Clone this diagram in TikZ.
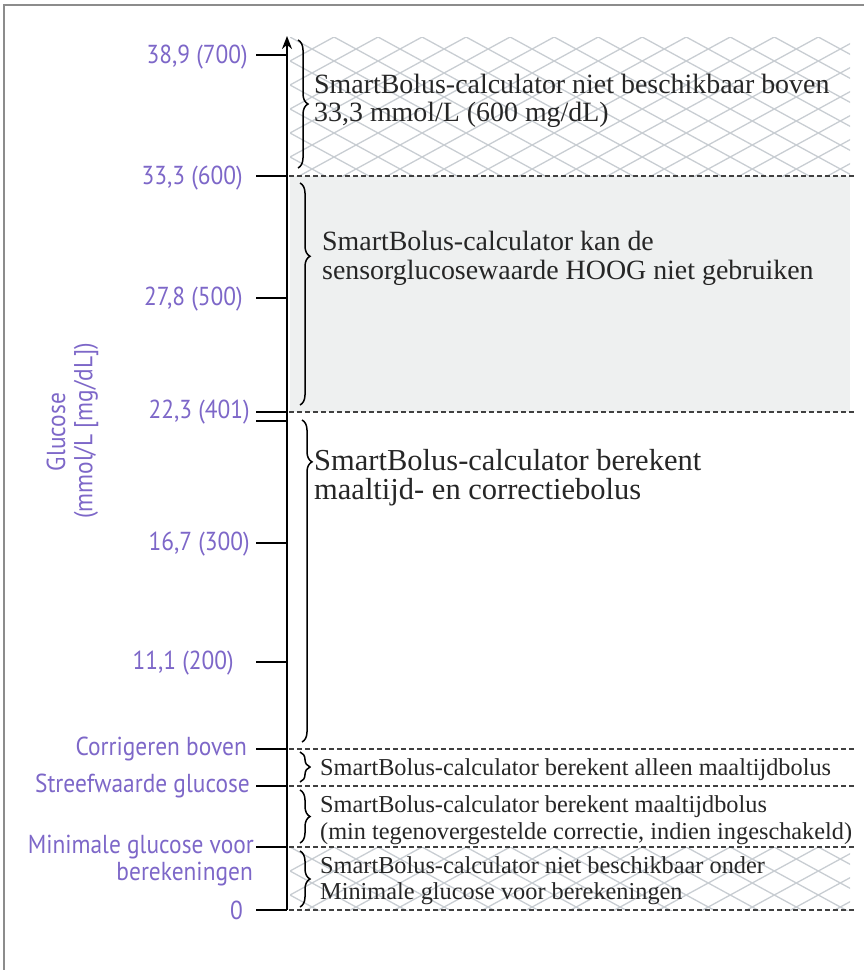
\documentclass[tikz,border=0pt]{standalone}
\usepackage{fontspec}
\setmainfont{Liberation Serif}
\newfontfamily\labfont{PT Sans}[FakeStretch=0.9]
\usetikzlibrary{decorations.pathreplacing,arrows.meta}
\definecolor{labc}{RGB}{125,103,200}
\definecolor{hatchc}{RGB}{200,205,210}
\definecolor{grayfill}{RGB}{238,240,240}
\definecolor{framec}{RGB}{140,140,140}
\newcommand\hatchreg[2]{%
  \begin{scope}
    \clip (290,#1) rectangle (850,#2);
    \foreach \k in {-22,...,22} {
      \draw[hatchc,line width=1.3pt] (290,#1+\k*24) -- (855,#1+\k*24+308);
      \draw[hatchc,line width=1.3pt] (290,#1+\k*24) -- (855,#1+\k*24-308);
    }
  \end{scope}}
\begin{document}
\begin{tikzpicture}[x=1pt,y=-1pt,
  lbl/.style={font=\labfont\fontsize{26}{30}\selectfont, text=labc, anchor=east, inner sep=0pt},
  axlbl/.style={font=\labfont\fontsize{26}{30}\selectfont, text=labc, rotate=90, inner sep=0pt},
  tickline/.style={line width=1.5pt},
  sepline/.style={dash pattern=on 5pt off 3pt, line width=1.3pt, draw=black!75},
  brc/.style={decorate, decoration={brace, amplitude=10pt, aspect=#1}, line width=1.5pt},
  brc/.default=0.5,
  bigtxt/.style={font=\fontsize{27.9}{30}\selectfont, anchor=base west, inner sep=0pt, text=black!85},
  midtxt/.style={font=\fontsize{30.5}{32}\selectfont, anchor=base west, inner sep=0pt, text=black!85},
  smtxt/.style={font=\fontsize{24.3}{26}\selectfont, anchor=base west, inner sep=0pt, text=black!85},
]
\useasboundingbox (0,0) rectangle (864,970);
% frame
\draw[framec,line width=2pt] (4,970) -- (4,5) -- (864,5);
% regions
\fill[grayfill] (290,176) rectangle (850,412);
\hatchreg{37}{176}
\hatchreg{847}{910}
% separators
\foreach \y/\n in {176/s1,412/s2,749/s3,786/s4,847/s5,910/s6} {
  \coordinate (\n a) at (289,\y);
  \coordinate (\n b) at (855,\y);
  \draw[sepline] (\n a) -- (\n b);
}
% axis
\coordinate (axbot) at (287,910);
\coordinate (axtop) at (287,36);
\draw[line width=2pt, -{Stealth[length=13pt,width=10pt]}] (axbot) -- (axtop);
% ticks
\foreach \y/\n in {55/t1,176/t2,298/t3,412/t4,421/t4b,543/t5,662/t6,749/t7,786/t8,847/t9,910/t10} {
  \coordinate (\n l) at (256,\y);
  \coordinate (\n r) at (287,\y);
  \draw[tickline] (\n l) -- (\n r);
}
% labels
\node[lbl] (l1) at (248,57) {38,9 (700)};
\node[lbl] (l2) at (243,178) {33,3 (600)};
\node[lbl] (l3) at (243,299) {27,8 (500)};
\node[lbl] (l4) at (250,412) {22,3 (401)};
\node[lbl] (l5) at (250,544) {16,7 (300)};
\node[lbl] (l6) at (234,663) {11,1 (200)};
\node[lbl] (l7) at (247,749) {Corrigeren boven};
\node[lbl] (l8) at (250,786) {Streefwaarde glucose};
\node[lbl] (l9) at (254,847) {Minimale glucose voor};
\node[lbl] (l9b) at (253,874) {berekeningen};
\node[lbl] (l10) at (243,910) {0};
\node[axlbl] (g1) at (56,432) {Glucose};
\node[axlbl] (g2) at (86,431) {(mmol/L [mg/dL])};
% braces
\coordinate (b1t) at (298,40);  \coordinate (b1b) at (298,168);
\coordinate (b2t) at (300,183); \coordinate (b2b) at (300,405);
\coordinate (b3t) at (302,420); \coordinate (b3b) at (302,742);
\coordinate (b4t) at (300,752); \coordinate (b4b) at (300,782);
\coordinate (b5t) at (300,790); \coordinate (b5b) at (300,843);
\coordinate (b6t) at (300,851); \coordinate (b6b) at (300,907);
\draw[brc] (b1t) -- (b1b);
\draw[brc=0.33] (b2t) -- (b2b);
\draw[brc=0.13] (b3t) -- (b3b);
\draw[brc] (b4t) -- (b4b);
\draw[brc] (b5t) -- (b5b);
\draw[brc] (b6t) -- (b6b);
% texts
\node[bigtxt] (x1a) at (314,93) {SmartBolus-calculator niet beschikbaar boven};
\node[bigtxt] (x1b) at (314,121) {33,3 mmol/L (600 mg/dL)};
\node[bigtxt] (x2a) at (322,250) {SmartBolus-calculator kan de};
\node[bigtxt] (x2b) at (322,279) {sensorglucosewaarde HOOG niet gebruiken};
\node[midtxt] (x3a) at (314,470) {SmartBolus-calculator berekent};
\node[midtxt] (x3b) at (314,499) {maaltijd- en correctiebolus};
\node[smtxt] (x4) at (320,775) {SmartBolus-calculator berekent alleen maaltijdbolus};
\node[smtxt] (x5a) at (320,812) {SmartBolus-calculator berekent maaltijdbolus};
\node[smtxt] (x5b) at (320,839) {(min tegenovergestelde correctie, indien ingeschakeld)};
\node[smtxt] (x6a) at (320,873) {SmartBolus-calculator niet beschikbaar onder};
\node[smtxt] (x6b) at (320,899) {Minimale glucose voor berekeningen};
\end{tikzpicture}
\end{document}
